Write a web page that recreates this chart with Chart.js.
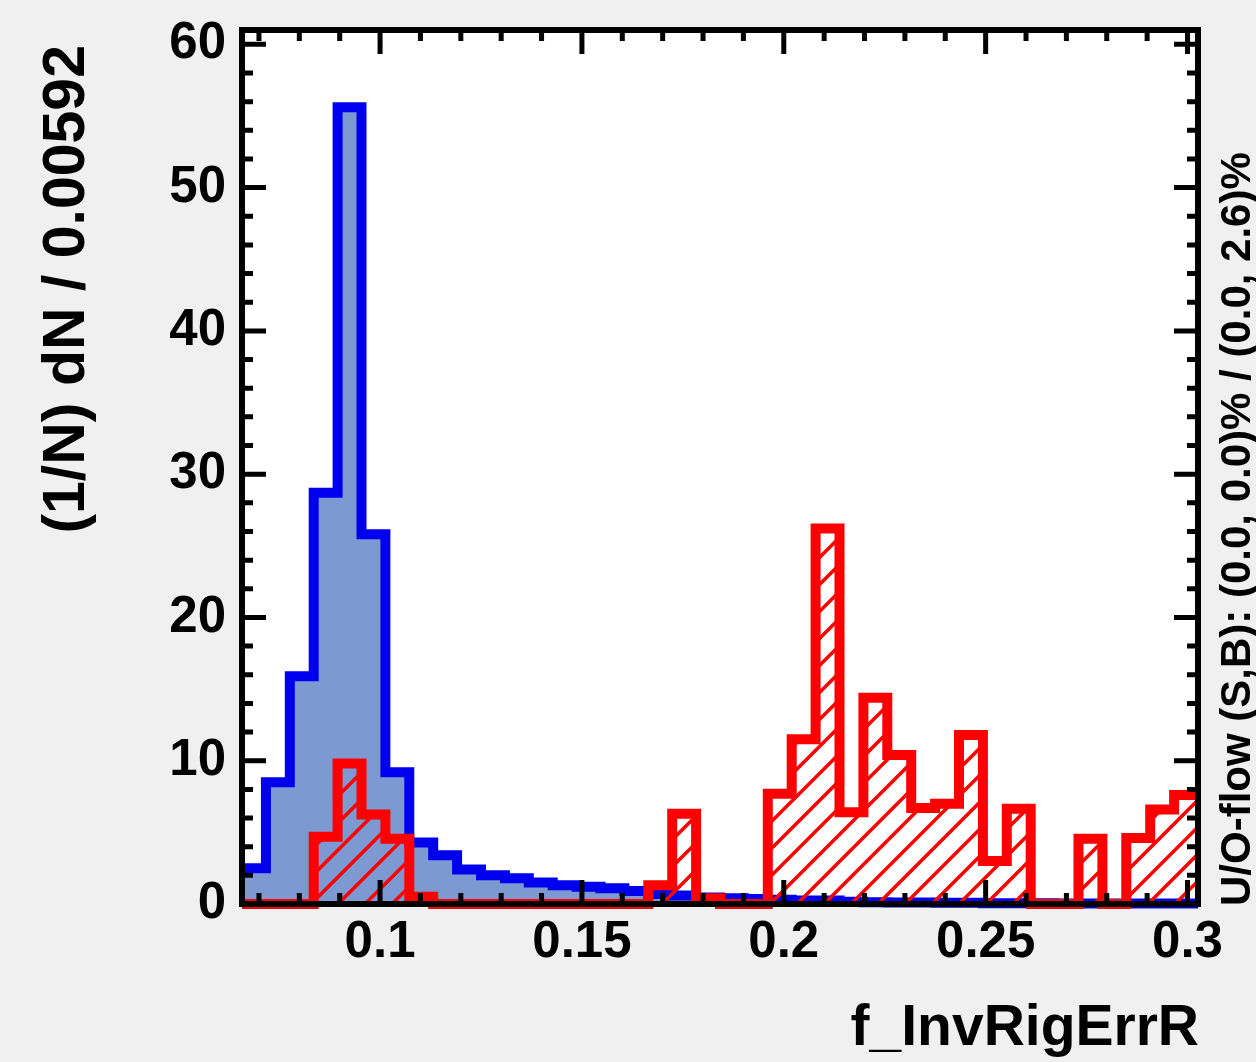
<!DOCTYPE html>
<html>
<head>
<meta charset="utf-8">
<script src="https://cdn.jsdelivr.net/npm/chart.js@4.4.0/dist/chart.umd.min.js"></script>
<style>
    html, body { margin: 0; padding: 0; background: #f0f0f0; }
</style>
</head>
<body>
<canvas id="histo" width="1256" height="1062"></canvas>
<script>
// binning of f_InvRigErrR (40 bins)
const binLow = 0.0658;
const binWidth = 0.00592;

// signal (blue, filled) and background (red, hatched), (1/N) dN per bin
const signalValues = [
    2.5, 8.5, 15.9, 28.7, 55.6, 25.8, 9.2, 4.3, 3.4, 2.4,
    2.0, 1.8, 1.5, 1.3, 1.2, 1.1, 0.9, 0.7, 0.6, 0.45,
    0.4, 0.35, 0.3, 0.25, 0.25, 0.15, 0.12, 0.1, 0.1, 0.08,
    0.08, 0.06, 0.05, 0.05, 0.04, 0.04, 0.03, 0.03, 0.03, 0.03
];
const backgroundValues = [
    0, 0, 0, 4.7, 9.8, 6.25, 4.55, 0.5, 0, 0,
    0, 0, 0, 0, 0, 0, 0, 1.3, 6.3, 0.4,
    0, 0, 7.7, 11.5, 26.2, 6.4, 14.4, 10.4, 6.7, 7.0,
    11.8, 3.0, 6.65, 0, 0, 4.55, 0, 4.6, 6.6, 7.6
];

const xTickLabels = [0.1, 0.15, 0.2, 0.25, 0.3];
const xMinorTicks = [0.07, 0.08, 0.09, 0.11, 0.12, 0.13, 0.14, 0.16, 0.17, 0.18, 0.19,
    0.21, 0.22, 0.23, 0.24, 0.26, 0.27, 0.28, 0.29];
const yTickLabels = [0, 10, 20, 30, 40, 50, 60];
const yMinorTicks = [2, 4, 6, 8, 12, 14, 16, 18, 22, 24, 26, 28, 32, 34, 36, 38,
    42, 44, 46, 48, 52, 54, 56, 58];

const xTitle = 'f_InvRigErrR';
const yTitle = '(1/N) dN / 0.00592';
const flowText = 'U/O-flow (S,B): (0.0, 0.0)% / (0.0, 2.6)%';

const FONT = '"Liberation Sans", Arial, Helvetica, sans-serif';

// histogram -> points at bin edges for a stepped line
function toSteps(values) {
    const pts = values.map((v, i) => ({ x: binLow + i * binWidth, y: v }));
    pts.push({ x: binLow + values.length * binWidth, y: values[values.length - 1] });
    return pts;
}

function hatchPattern() {
    const s = 27;
    const c = document.createElement('canvas');
    c.width = s;
    c.height = s;
    const g = c.getContext('2d');
    g.strokeStyle = '#ff0000';
    g.lineWidth = 3.5;
    g.beginPath();
    g.moveTo(0, s); g.lineTo(s, 0);
    g.moveTo(-2, 2); g.lineTo(2, -2);
    g.moveTo(s - 2, s + 2); g.lineTo(s + 2, s - 2);
    g.stroke();
    return g.createPattern(c, 'repeat');
}

// white pad, black frame with inner ticks on all sides, and titles
const rootFrame = {
    id: 'rootFrame',
    beforeDraw(chart) {
        const { ctx, chartArea: a } = chart;
        ctx.save();
        ctx.fillStyle = '#ffffff';
        ctx.fillRect(a.left, a.top, a.right - a.left, a.bottom - a.top);
        ctx.restore();
    },
    afterDatasetsDraw(chart) {
        const { ctx, chartArea: a, scales } = chart;
        const x = scales.x, y = scales.y;
        ctx.save();
        ctx.strokeStyle = '#000000';
        ctx.lineWidth = 5;
        ctx.lineCap = 'butt';
        ctx.beginPath();
        const xTick = (v, len) => {
            const px = x.getPixelForValue(v);
            ctx.moveTo(px, a.bottom); ctx.lineTo(px, a.bottom - len);
            ctx.moveTo(px, a.top); ctx.lineTo(px, a.top + len);
        };
        const yTick = (v, len) => {
            const py = y.getPixelForValue(v);
            ctx.moveTo(a.left, py); ctx.lineTo(a.left + len, py);
            ctx.moveTo(a.right, py); ctx.lineTo(a.right - len, py);
        };
        xTickLabels.forEach(v => xTick(v, 24));
        xMinorTicks.forEach(v => xTick(v, 11));
        yTickLabels.forEach(v => yTick(v, 24));
        yMinorTicks.forEach(v => yTick(v, 11));
        ctx.stroke();

        ctx.lineWidth = 6;
        ctx.strokeRect(a.left, a.top, a.right - a.left, a.bottom - a.top);

        ctx.fillStyle = '#000000';
        ctx.font = 'bold 57px ' + FONT;
        ctx.textAlign = 'right';
        ctx.textBaseline = 'alphabetic';
        ctx.fillText(xTitle, a.right + 1, 1045);

        ctx.save();
        ctx.translate(84, 45);
        ctx.rotate(-Math.PI / 2);
        ctx.font = 'bold 59px ' + FONT;
        ctx.textAlign = 'right';
        ctx.fillText(yTitle, 0, 0);
        ctx.restore();

        ctx.save();
        ctx.translate(1250, 906);
        ctx.rotate(-Math.PI / 2);
        ctx.font = 'bold 42px ' + FONT;
        ctx.textAlign = 'left';
        ctx.fillText(flowText, 0, 0);
        ctx.restore();
        ctx.restore();
    }
};

const stepClip = { left: 0, top: 0, right: 0, bottom: 6 };

new Chart(document.getElementById('histo'), {
    type: 'line',
    data: {
        datasets: [
            {
                label: 'Background',
                data: toSteps(backgroundValues),
                stepped: 'before',
                borderColor: '#ff0000',
                borderWidth: 10,
                backgroundColor: hatchPattern(),
                fill: 'origin',
                pointRadius: 0,
                borderJoinStyle: 'miter',
                clip: stepClip
            },
            {
                label: 'Signal',
                data: toSteps(signalValues),
                stepped: 'before',
                borderColor: '#0000ee',
                borderWidth: 10,
                backgroundColor: '#7d99d1',
                fill: 'origin',
                pointRadius: 0,
                borderJoinStyle: 'miter',
                clip: stepClip
            }
        ]
    },
    options: {
        responsive: false,
        animation: false,
        devicePixelRatio: 1,
        layout: { padding: { top: 30, right: 58, left: 0, bottom: 0 } },
        plugins: {
            legend: { display: false },
            tooltip: { enabled: false }
        },
        scales: {
            x: {
                type: 'linear',
                min: binLow,
                max: binLow + signalValues.length * binWidth,
                grid: { display: false, drawTicks: false },
                border: { display: false },
                afterFit: s => { s.height = 158; s.paddingLeft = 0; s.paddingRight = 0; },
                afterBuildTicks: s => { s.ticks = xTickLabels.map(v => ({ value: v })); },
                ticks: {
                    padding: 8,
                    color: '#000000',
                    maxRotation: 0,
                    autoSkip: false,
                    font: { family: FONT, size: 51, weight: 'bold' },
                    callback: v => String(v)
                }
            },
            y: {
                type: 'linear',
                min: 0,
                max: 61,
                grid: { display: false, drawTicks: false },
                border: { display: false },
                afterFit: s => { s.width = 242; s.paddingTop = 0; s.paddingBottom = 0; },
                afterBuildTicks: s => { s.ticks = yTickLabels.map(v => ({ value: v })); },
                ticks: {
                    padding: 16,
                    color: '#000000',
                    autoSkip: false,
                    font: { family: FONT, size: 51, weight: 'bold' },
                    callback: v => String(v)
                }
            }
        }
    },
    plugins: [rootFrame]
});
</script>
</body>
</html>
